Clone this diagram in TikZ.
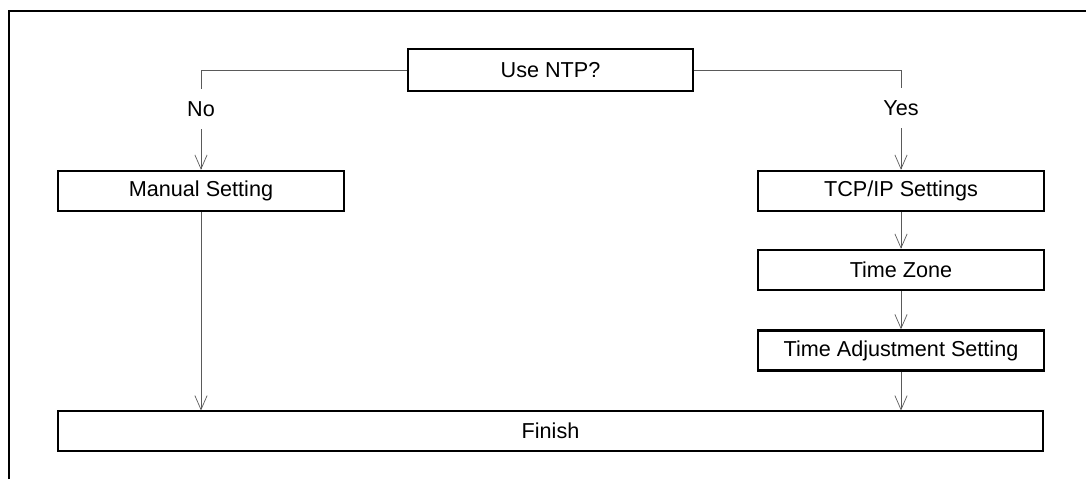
\documentclass[tikz,border=0pt]{standalone}
\usepackage{fontspec}
\setmainfont{Liberation Sans}
\usetikzlibrary{arrows.meta, positioning}
\definecolor{ntpline}{RGB}{90, 90, 90}

\begin{document}
\begin{tikzpicture}[
  stepbox/.style={rectangle, draw=black, line width=1.4pt, fill=white,
               minimum height=0.8cm, minimum width=5.72cm, inner sep=0pt, font=\fontsize{12.3}{14}\selectfont},
  thinbox/.style={stepbox, line width=0.6pt},
  answer/.style={fill=white, minimum height=0.8cm, inner sep=0pt, font=\fontsize{12.3}{14}\selectfont},
  arrow/.style={-{Straight Barb[length=8pt, width=7pt]}, thin, color=ntpline},
]
  \useasboundingbox (0,0) rectangle (21.72,-9.58);
  % frame
  \draw[line width=1.1pt] (0.18,-9.58) -- (0.18,-0.22) -- (21.72,-0.22);

  % question
  \node[thinbox, minimum width=5.7cm, minimum height=0.84cm] (ntp) at (11.01,-1.40) {Use NTP?};
  \node[answer] (no) at (4.02,-2.18) {No};
  \node[answer] (yes) at (18.02,-2.16) {Yes};

  % manual branch
  \node[stepbox] (man) at (4.02,-3.82) {Manual Setting};

  % NTP branch
  \node[stepbox] (tcp) at (18.02,-3.82) {TCP/IP Settings};
  \node[stepbox] (tz) at (18.02,-5.40) {Time Zone};
  \node[stepbox] (adj) at (18.02,-7.01) {Time Adjustment Setting};

  \node[thinbox, minimum width=19.7cm] (fin) at (11.01,-8.62) {Finish};

  \draw[thin, ntpline] (ntp.west) -| (no.north);
  \draw[thin, ntpline] (ntp.east) -| (yes.north);
  \draw[arrow] (no.south) -- (man.north);
  \draw[arrow] (yes.south) -- (tcp.north);
  \draw[arrow] (tcp) -- (tz);
  \draw[arrow] (tz) -- (adj);
  \draw[arrow] (man.south) -- (man.south |- fin.north);
  \draw[arrow] (adj.south) -- (adj.south |- fin.north);
\end{tikzpicture}
\end{document}
